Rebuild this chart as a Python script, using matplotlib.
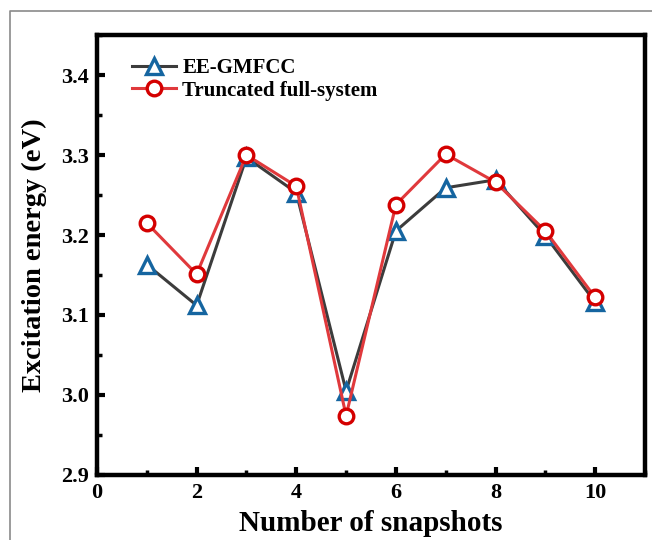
import numpy as np
import matplotlib.pyplot as plt
from matplotlib.lines import Line2D
from matplotlib.ticker import MultipleLocator

snapshots = [1, 2, 3, 4, 5, 6, 7, 8, 9, 10]
ee_gmfcc = [3.163, 3.112, 3.297, 3.253, 3.005, 3.205, 3.259, 3.269, 3.199, 3.116]
truncated = [3.215, 3.151, 3.300, 3.261, 2.974, 3.238, 3.301, 3.266, 3.205, 3.122]

plt.rcParams['font.family'] = ['Liberation Serif', 'DejaVu Serif']
plt.rcParams['font.weight'] = 'bold'

fig = plt.figure(figsize=(6.52, 5.4), dpi=100)
ax = fig.add_axes([97/652, 65/540, 548/652, 440/540])

# thin grey frame around the figure (left and top only visible)
fig.add_artist(Line2D([10/652, 10/652, 1.0], [0.0, 1 - 11/540, 1 - 11/540],
                      transform=fig.transFigure, color='#8a8a8a', lw=1.2))

ax.plot(snapshots, ee_gmfcc, color='#3c3c3c', lw=2.2, marker='^', ms=12,
        mfc='white', mec='#1565a0', mew=2.4, label='EE-GMFCC', zorder=3)
ax.plot(snapshots, truncated, color='#e0393c', lw=2.2, marker='o', ms=10.5,
        mfc='white', mec='#d40000', mew=2.4, label='Truncated full-system', zorder=4)

ax.set_xlim(0, 11)
ax.set_ylim(2.9, 3.45)
ax.xaxis.set_major_locator(MultipleLocator(2))
ax.xaxis.set_minor_locator(MultipleLocator(1))
ax.yaxis.set_major_locator(MultipleLocator(0.1))
ax.yaxis.set_minor_locator(MultipleLocator(0.05))
ax.yaxis.set_major_formatter(plt.FormatStrFormatter('%.1f'))

for s in ax.spines.values():
    s.set_linewidth(3.2)
ax.tick_params(which='major', direction='in', length=6, width=3, labelsize=16, pad=6)
ax.tick_params(which='minor', direction='in', length=3.5, width=2.5)
ax.tick_params(axis='x', which='both', top=False)
ax.tick_params(axis='y', which='both', right=False)
for lbl in ax.get_xticklabels() + ax.get_yticklabels():
    lbl.set_fontweight('bold')

ax.set_xlabel('Number of snapshots', fontsize=21, fontweight='bold', labelpad=5)
ax.set_ylabel('Excitation energy (eV)', fontsize=20.5, fontweight='bold', labelpad=10)

ax.legend(loc='upper left', bbox_to_anchor=(0.03, 0.99), frameon=False,
          prop={'size': 15, 'weight': 'bold'}, handlelength=2.1,
          handletextpad=0.3, labelspacing=0.12)

fig.savefig('out.png', dpi=100)
